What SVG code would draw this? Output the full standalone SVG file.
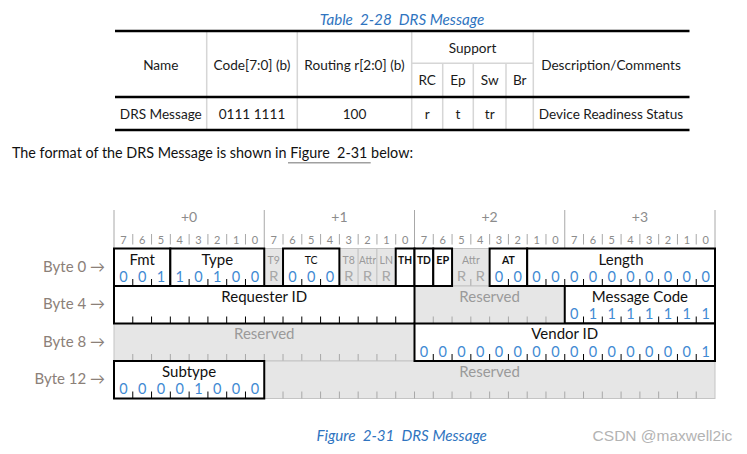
<svg xmlns="http://www.w3.org/2000/svg" width="747" height="454" viewBox="0 0 747 454">
<style>
text{font-family:Lato,"Noto Sans","Liberation Sans",sans-serif}
.tt{font-size:13.6px;fill:#1a1a1a;text-anchor:middle}
.cap{font-size:15.2px;fill:#2f74c0;font-style:italic;text-anchor:middle;white-space:pre}
.vl{stroke:#d6d6d6;stroke-width:1.5;fill:none}
.hl{stroke:#000;stroke-width:2.5;fill:none}
.hdr{font-size:14px;fill:#8c8c8c;text-anchor:middle}
.bn{font-size:11px;fill:#8c8c8c;text-anchor:middle}
.hg{stroke:#a8a8a8;stroke-width:1;fill:none}
.bl{font-size:15px;fill:#8b8078;text-anchor:end}
.w{fill:#fff;stroke:#000;stroke-width:2}
.g{fill:#e6e6e6;stroke:#c4c4c4;stroke-width:1}
.lb{font-size:15px;fill:#111;text-anchor:middle}
.sl{font-size:10.5px;fill:#111;text-anchor:middle}
.sg{font-size:10.5px;fill:#9a9a9a;text-anchor:middle}
.rs{font-size:15px;fill:#9a9a9a;text-anchor:middle}
.v{font-size:14.5px;fill:#3f8ad3;text-anchor:middle}
.r{font-family:"Liberation Mono",monospace;font-size:15px;fill:#a8a8a8;text-anchor:middle}
.tk{stroke:#000;stroke-width:1;fill:none}
.tg{stroke:#a8a8a8;stroke-width:1;fill:none}
</style>

<g id="table">
<text class="cap" x="402" y="25" xml:space="preserve">Table  2-28  DRS Message</text>
<path class="vl" d="M206.7 31V130M297.3 31V130M411.7 31V130M533.3 31V130M411.7 63.3H533.3M442.7 63.3V130M473.3 63.3V130M506 63.3V130"/>
<path class="hl" d="M115 31H689.5M115 97H689.5M115 130H689.5"/>
<text class="tt" x="160.8" y="70">Name</text>
<text class="tt" x="252" y="70">Code[7:0] (b)</text>
<text class="tt" x="354.5" y="70">Routing r[2:0] (b)</text>
<text class="tt" x="472.5" y="53">Support</text>
<text class="tt" x="611" y="70">Description/Comments</text>
<text class="tt" x="427.2" y="85">RC</text>
<text class="tt" x="458" y="85">Ep</text>
<text class="tt" x="489.7" y="85">Sw</text>
<text class="tt" x="519.7" y="85">Br</text>
<text class="tt" x="160.8" y="119">DRS Message</text>
<text class="tt" x="252" y="119">0111 1111</text>
<text class="tt" x="354.5" y="119">100</text>
<text class="tt" x="427.2" y="119">r</text>
<text class="tt" x="458" y="119">t</text>
<text class="tt" x="489.7" y="119">tr</text>
<text class="tt" x="611" y="119">Device Readiness Status</text>
</g>

<g id="intro">
<text x="12" y="158.3" style="font-size:14.6px;fill:#111;white-space:pre" xml:space="preserve" textLength="401" lengthAdjust="spacingAndGlyphs">The format of the DRS Message is shown in Figure  2-31 below:</text>
<path d="M288 162.7H370.7" stroke="#a0a0a0" stroke-width="1.5"/>
</g>

<g id="header">
<path class="hg" d="M114 210V248.5M264.25 210V248.5M414.5 210V248.5M564.75 210V248.5M715 210V248.5"/>
<path class="hg" d="M132.78 234V244.5M151.56 234V244.5M170.34 234V244.5M189.13 234V244.5M207.91 234V244.5M226.69 234V244.5M245.47 234V244.5M283.03 234V244.5M301.81 234V244.5M320.59 234V244.5M339.38 234V244.5M358.16 234V244.5M376.94 234V244.5M395.72 234V244.5M433.28 234V244.5M452.06 234V244.5M470.84 234V244.5M489.63 234V244.5M508.41 234V244.5M527.19 234V244.5M545.97 234V244.5M583.53 234V244.5M602.31 234V244.5M621.09 234V244.5M639.88 234V244.5M658.66 234V244.5M677.44 234V244.5M696.22 234V244.5"/>
<text class="hdr" x="189.1" y="222">+0</text>
<text class="hdr" x="339.4" y="222">+1</text>
<text class="hdr" x="489.6" y="222">+2</text>
<text class="hdr" x="639.9" y="222">+3</text>
<text class="bn" y="243.5"><tspan x="123.39">7</tspan><tspan x="142.17">6</tspan><tspan x="160.95">5</tspan><tspan x="179.73">4</tspan><tspan x="198.52">3</tspan><tspan x="217.30">2</tspan><tspan x="236.08">1</tspan><tspan x="254.86">0</tspan><tspan x="273.64">7</tspan><tspan x="292.42">6</tspan><tspan x="311.20">5</tspan><tspan x="329.98">4</tspan><tspan x="348.77">3</tspan><tspan x="367.55">2</tspan><tspan x="386.33">1</tspan><tspan x="405.11">0</tspan><tspan x="423.89">7</tspan><tspan x="442.67">6</tspan><tspan x="461.45">5</tspan><tspan x="480.23">4</tspan><tspan x="499.02">3</tspan><tspan x="517.80">2</tspan><tspan x="536.58">1</tspan><tspan x="555.36">0</tspan><tspan x="574.14">7</tspan><tspan x="592.92">6</tspan><tspan x="611.70">5</tspan><tspan x="630.48">4</tspan><tspan x="649.27">3</tspan><tspan x="668.05">2</tspan><tspan x="686.83">1</tspan><tspan x="705.61">0</tspan></text>
</g>

<g id="byte-labels">
<text class="bl" x="105" y="272">Byte 0 →</text>
<text class="bl" x="105" y="309">Byte 4 →</text>
<text class="bl" x="105" y="347">Byte 8 →</text>
<text class="bl" x="105" y="384">Byte 12 →</text>
</g>

<!-- gray (reserved) fields first -->
<g id="f-t9"><rect class="g" x="264.25" y="248.5" width="18.78" height="37.5"/><text class="sg" x="273.64" y="264">T9</text><text class="r" x="273.64" y="281">R</text></g>
<g id="f-t8"><rect class="g" x="339.38" y="248.5" width="18.78" height="37.5"/><text class="sg" x="348.77" y="264">T8</text><text class="r" x="348.77" y="281">R</text></g>
<g id="f-attr1"><rect class="g" x="358.16" y="248.5" width="18.78" height="37.5"/><text class="sg" x="367.55" y="264" textLength="17" lengthAdjust="spacingAndGlyphs">Attr</text><text class="r" x="367.55" y="281">R</text></g>
<g id="f-ln"><rect class="g" x="376.94" y="248.5" width="18.78" height="37.5"/><text class="sg" x="386.33" y="264">LN</text><text class="r" x="386.33" y="281">R</text></g>
<g id="f-attr2"><rect class="g" x="452.06" y="248.5" width="37.56" height="37.5"/><text class="sg" x="470.84" y="264">Attr</text><text class="r" x="461.45" y="281">R</text><text class="r" x="480.23" y="281">R</text><path class="tg" d="M470.84 279V286"/></g>
<g id="f-res4"><rect class="g" x="414.5" y="286" width="150.25" height="37.5"/><text class="rs" x="489.6" y="301.5">Reserved</text><path class="tg" d="M433.28 316.5V323.5M452.06 316.5V323.5M470.84 316.5V323.5M489.63 316.5V323.5M508.41 316.5V323.5M527.19 316.5V323.5M545.97 316.5V323.5"/></g>
<g id="f-res8"><rect class="g" x="114" y="323.5" width="300.5" height="37.5"/><text class="rs" x="264.25" y="339">Reserved</text><path class="tg" d="M132.78 354V361M151.56 354V361M170.34 354V361M189.13 354V361M207.91 354V361M226.69 354V361M245.47 354V361M264.25 354V361M283.03 354V361M301.81 354V361M320.59 354V361M339.38 354V361M358.16 354V361M376.94 354V361M395.72 354V361"/></g>
<g id="f-res12"><rect class="g" x="264.25" y="361" width="450.75" height="37.5"/><text class="rs" x="489.6" y="376.5">Reserved</text><path class="tg" d="M283.03 391.5V398.5M301.81 391.5V398.5M320.59 391.5V398.5M339.38 391.5V398.5M358.16 391.5V398.5M376.94 391.5V398.5M395.72 391.5V398.5M414.5 391.5V398.5M433.28 391.5V398.5M452.06 391.5V398.5M470.84 391.5V398.5M489.63 391.5V398.5M508.41 391.5V398.5M527.19 391.5V398.5M545.97 391.5V398.5M564.75 391.5V398.5M583.53 391.5V398.5M602.31 391.5V398.5M621.09 391.5V398.5M639.88 391.5V398.5M658.66 391.5V398.5M677.44 391.5V398.5M696.22 391.5V398.5"/></g>

<!-- white fields -->
<g id="f-fmt"><rect class="w" x="114" y="248.5" width="56.34" height="37.5"/><text class="lb" x="142.17" y="264.5">Fmt</text><text class="v" y="281.5"><tspan x="123.39">0</tspan><tspan x="142.17">0</tspan><tspan x="160.95">1</tspan></text><path class="tk" d="M132.78 279V286M151.56 279V286"/></g>
<g id="f-type"><rect class="w" x="170.34" y="248.5" width="93.91" height="37.5"/><text class="lb" x="217.3" y="264.5">Type</text><text class="v" y="281.5"><tspan x="179.73">1</tspan><tspan x="198.52">0</tspan><tspan x="217.30">1</tspan><tspan x="236.08">0</tspan><tspan x="254.86">0</tspan></text><path class="tk" d="M189.13 279V286M207.91 279V286M226.69 279V286M245.47 279V286"/></g>
<g id="f-tc"><rect class="w" x="283.03" y="248.5" width="56.35" height="37.5"/><text class="sl" x="311.2" y="264">TC</text><text class="v" y="281.5"><tspan x="292.42">0</tspan><tspan x="311.20">0</tspan><tspan x="329.98">0</tspan></text><path class="tk" d="M301.81 279V286M320.59 279V286"/></g>
<g id="f-th"><rect class="w" x="395.72" y="248.5" width="18.78" height="37.5"/><text class="sl" x="405.11" y="264" style="font-weight:bold" textLength="14" lengthAdjust="spacingAndGlyphs">TH</text></g>
<g id="f-td"><rect class="w" x="414.5" y="248.5" width="18.78" height="37.5"/><text class="sl" x="423.89" y="264" style="font-weight:bold" textLength="14" lengthAdjust="spacingAndGlyphs">TD</text></g>
<g id="f-ep"><rect class="w" x="433.28" y="248.5" width="18.78" height="37.5"/><text class="sl" x="442.67" y="264" style="font-weight:bold" textLength="13" lengthAdjust="spacingAndGlyphs">EP</text></g>
<g id="f-at"><rect class="w" x="489.63" y="248.5" width="37.56" height="37.5"/><text class="sl" x="508.41" y="264" style="font-weight:bold">AT</text><text class="v" y="281.5"><tspan x="499.02">0</tspan><tspan x="517.80">0</tspan></text><path class="tk" d="M508.41 279V286"/></g>
<g id="f-length"><rect class="w" x="527.19" y="248.5" width="187.81" height="37.5"/><text class="lb" x="621.1" y="264.5">Length</text><text class="v" y="281.5"><tspan x="536.58">0</tspan><tspan x="555.36">0</tspan><tspan x="574.14">0</tspan><tspan x="592.92">0</tspan><tspan x="611.70">0</tspan><tspan x="630.48">0</tspan><tspan x="649.27">0</tspan><tspan x="668.05">0</tspan><tspan x="686.83">0</tspan><tspan x="705.61">0</tspan></text><path class="tk" d="M545.97 279V286M564.75 279V286M583.53 279V286M602.31 279V286M621.09 279V286M639.88 279V286M658.66 279V286M677.44 279V286M696.22 279V286"/></g>
<g id="f-reqid"><rect class="w" x="114" y="286" width="300.5" height="37.5"/><text class="lb" x="264.25" y="301.5">Requester ID</text><path class="tk" d="M132.78 316.5V323.5M151.56 316.5V323.5M170.34 316.5V323.5M189.13 316.5V323.5M207.91 316.5V323.5M226.69 316.5V323.5M245.47 316.5V323.5M264.25 316.5V323.5M283.03 316.5V323.5M301.81 316.5V323.5M320.59 316.5V323.5M339.38 316.5V323.5M358.16 316.5V323.5M376.94 316.5V323.5M395.72 316.5V323.5"/></g>
<g id="f-msgcode"><rect class="w" x="564.75" y="286" width="150.25" height="37.5"/><text class="lb" x="639.9" y="301.5">Message Code</text><text class="v" y="319"><tspan x="574.14">0</tspan><tspan x="592.92">1</tspan><tspan x="611.70">1</tspan><tspan x="630.48">1</tspan><tspan x="649.27">1</tspan><tspan x="668.05">1</tspan><tspan x="686.83">1</tspan><tspan x="705.61">1</tspan></text><path class="tk" d="M583.53 316.5V323.5M602.31 316.5V323.5M621.09 316.5V323.5M639.88 316.5V323.5M658.66 316.5V323.5M677.44 316.5V323.5M696.22 316.5V323.5"/></g>
<g id="f-vendor"><rect class="w" x="414.5" y="323.5" width="300.5" height="37.5"/><text class="lb" x="564.75" y="339">Vendor ID</text><text class="v" y="356.5"><tspan x="423.89">0</tspan><tspan x="442.67">0</tspan><tspan x="461.45">0</tspan><tspan x="480.23">0</tspan><tspan x="499.02">0</tspan><tspan x="517.80">0</tspan><tspan x="536.58">0</tspan><tspan x="555.36">0</tspan><tspan x="574.14">0</tspan><tspan x="592.92">0</tspan><tspan x="611.70">0</tspan><tspan x="630.48">0</tspan><tspan x="649.27">0</tspan><tspan x="668.05">0</tspan><tspan x="686.83">0</tspan><tspan x="705.61">1</tspan></text><path class="tk" d="M433.28 354V361M452.06 354V361M470.84 354V361M489.63 354V361M508.41 354V361M527.19 354V361M545.97 354V361M564.75 354V361M583.53 354V361M602.31 354V361M621.09 354V361M639.88 354V361M658.66 354V361M677.44 354V361M696.22 354V361"/></g>
<g id="f-subtype"><rect class="w" x="114" y="361" width="150.25" height="37.5"/><text class="lb" x="189.1" y="376.5">Subtype</text><text class="v" y="394"><tspan x="123.39">0</tspan><tspan x="142.17">0</tspan><tspan x="160.95">0</tspan><tspan x="179.73">0</tspan><tspan x="198.52">1</tspan><tspan x="217.30">0</tspan><tspan x="236.08">0</tspan><tspan x="254.86">0</tspan></text><path class="tk" d="M132.78 391.5V398.5M151.56 391.5V398.5M170.34 391.5V398.5M189.13 391.5V398.5M207.91 391.5V398.5M226.69 391.5V398.5M245.47 391.5V398.5"/></g>

<g id="connectors"></g>

<g id="caption">
<text class="cap" x="401.7" y="440.7" xml:space="preserve">Figure  2-31  DRS Message</text>
<text x="662.5" y="440.7" style="font-family:'Liberation Sans',Arial,sans-serif;font-size:15.5px;fill:#b3b3b3;text-anchor:middle">CSDN @maxwell2ic</text>
</g>
</svg>
